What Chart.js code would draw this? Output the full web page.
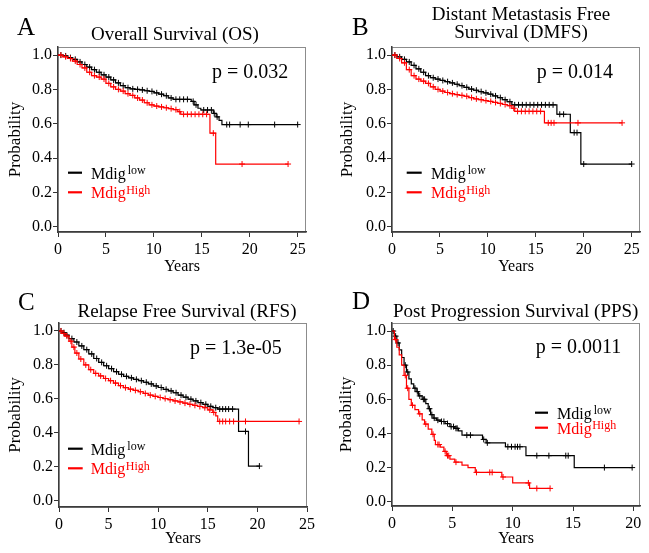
<!DOCTYPE html>
<html>
<head>
<meta charset="utf-8">
<script src="https://cdn.jsdelivr.net/npm/chart.js@4.4.1/dist/chart.umd.min.js"></script>
<style>
body { margin: 0; background: #fff; }
#wrap { position: relative; width: 649px; height: 553px; overflow: hidden; }
#wrap canvas { position: absolute; }
</style>
</head>
<body>
<div id="wrap">
  <canvas id="cA" width="325" height="276" style="left:0;top:0"></canvas>
  <canvas id="cB" width="324" height="276" style="left:325px;top:0"></canvas>
  <canvas id="cC" width="325" height="277" style="left:0;top:276px"></canvas>
  <canvas id="cD" width="324" height="277" style="left:325px;top:276px"></canvas>
</div>
<script>
// tick labels
var yTicks = [0, 0.2, 0.4, 0.6, 0.8, 1.0];
var xTicks25 = [0, 5, 10, 15, 20, 25];
var xTicks20 = [0, 5, 10, 15, 20];
var groupNames = ['Mdig', 'Mdig'];
var groupSup = ['low', 'High'];

// A - Overall Survival, [years, survival]
var osLow = [[0,1],[0.5,0.995],[1,0.985],[1.5,0.975],[2,0.96],[2.5,0.945],[3,0.93],[3.5,0.915],[4,0.9],[4.5,0.885],[5,0.872],[5.5,0.855],[6,0.838],[6.5,0.822],[7,0.81],[7.5,0.803],[8,0.8],[8.5,0.797],[9,0.792],[9.5,0.788],[10,0.78],[10.5,0.772],[11,0.763],[11.5,0.75],[12,0.742],[13.9,0.73],[14.2,0.71],[14.6,0.69],[14.9,0.68],[16.2,0.66],[16.5,0.64],[16.8,0.62],[17.1,0.595],[25,0.595]];
var osLowCens = [[0.3,1],[0.8,0.995],[1.3,0.985],[1.8,0.975],[2.3,0.96],[2.8,0.945],[3.3,0.93],[3.8,0.915],[4.3,0.9],[4.8,0.885],[5.3,0.872],[5.8,0.855],[6.3,0.838],[6.8,0.822],[7.3,0.81],[7.8,0.803],[8.3,0.8],[8.8,0.797],[9.3,0.792],[9.8,0.788],[10.3,0.78],[10.8,0.772],[11.3,0.763],[11.8,0.75],[12.3,0.742],[12.7,0.742],[13.1,0.742],[13.5,0.742],[14.1,0.73],[14.4,0.71],[15.2,0.68],[15.6,0.68],[16,0.68],[16.3,0.66],[16.6,0.64],[17.6,0.595],[17.9,0.595],[19,0.595],[19.85,0.595],[22.6,0.595],[25,0.595]];
var osHigh = [[0,1],[0.5,0.99],[1,0.98],[1.5,0.965],[2,0.945],[2.5,0.925],[3,0.9],[3.5,0.88],[4,0.872],[4.5,0.86],[5,0.835],[5.5,0.815],[6,0.8],[6.5,0.79],[7,0.775],[7.5,0.765],[8,0.75],[8.5,0.738],[9,0.722],[9.5,0.71],[10,0.703],[10.5,0.698],[11,0.693],[11.5,0.688],[12,0.682],[12.5,0.67],[12.8,0.655],[15.85,0.545],[16.45,0.365],[24,0.365]];
var osHighCens = [[0.3,1],[0.8,0.99],[1.3,0.98],[1.8,0.965],[2.3,0.945],[2.8,0.925],[3.3,0.9],[3.8,0.88],[4.3,0.872],[4.8,0.86],[5.3,0.835],[5.8,0.815],[6.3,0.8],[6.8,0.79],[7.3,0.775],[7.8,0.765],[8.3,0.75],[8.8,0.738],[9.3,0.722],[9.8,0.71],[10.3,0.703],[10.8,0.698],[11.3,0.693],[11.8,0.688],[12.3,0.682],[12.7,0.67],[13.1,0.655],[13.5,0.655],[13.9,0.655],[14.3,0.655],[14.7,0.655],[15.1,0.655],[15.5,0.655],[16.2,0.545],[19.2,0.365],[24,0.365]];

// B - Distant Metastasis Free Survival
var dmfsLow = [[0,1],[0.5,0.99],[1,0.975],[1.5,0.96],[2,0.94],[2.5,0.92],[3,0.9],[3.5,0.88],[4,0.868],[4.5,0.86],[5,0.852],[5.5,0.845],[6,0.838],[6.5,0.83],[7,0.822],[7.5,0.812],[8,0.802],[8.5,0.795],[9,0.787],[9.5,0.78],[10,0.772],[10.5,0.762],[11,0.752],[11.5,0.74],[12,0.728],[12.5,0.71],[17.2,0.655],[18.6,0.548],[19.7,0.365],[25,0.365]];
var dmfsLowCens = [[0.3,1],[0.8,0.99],[1.3,0.975],[1.8,0.96],[2.3,0.94],[2.8,0.92],[3.3,0.9],[3.8,0.88],[4.3,0.868],[4.8,0.86],[5.3,0.852],[5.8,0.845],[6.3,0.838],[6.8,0.83],[7.3,0.822],[7.8,0.812],[8.3,0.802],[8.8,0.795],[9.3,0.787],[9.8,0.78],[10.3,0.772],[10.8,0.762],[11.3,0.752],[11.8,0.74],[12.3,0.728],[12.8,0.71],[13.2,0.71],[13.6,0.71],[14,0.71],[14.4,0.71],[14.8,0.71],[15.2,0.71],[15.6,0.71],[16,0.71],[16.4,0.71],[16.8,0.71],[17.5,0.655],[17.9,0.655],[19,0.548],[19.3,0.548],[20,0.365],[25,0.365]];
var dmfsHigh = [[0,1],[0.5,0.98],[1,0.955],[1.5,0.915],[2,0.88],[2.5,0.86],[3,0.848],[3.5,0.835],[4,0.815],[4.5,0.8],[5,0.79],[5.5,0.782],[6,0.775],[6.5,0.77],[7,0.765],[7.5,0.76],[8,0.752],[8.5,0.745],[9,0.74],[9.5,0.735],[10,0.73],[10.5,0.724],[11,0.718],[11.5,0.712],[12,0.705],[12.5,0.69],[12.8,0.672],[15.9,0.605],[24,0.605]];
var dmfsHighCens = [[0.3,1],[0.8,0.98],[1.3,0.955],[1.8,0.915],[2.3,0.88],[2.8,0.86],[3.3,0.848],[3.8,0.835],[4.3,0.815],[4.8,0.8],[5.3,0.79],[5.8,0.782],[6.3,0.775],[6.8,0.77],[7.3,0.765],[7.8,0.76],[8.3,0.752],[8.8,0.745],[9.3,0.74],[9.8,0.735],[10.3,0.73],[10.8,0.724],[11.3,0.718],[11.8,0.712],[12.3,0.705],[12.7,0.69],[13.1,0.672],[13.5,0.672],[13.9,0.672],[14.3,0.672],[14.7,0.672],[15.1,0.672],[15.5,0.672],[16.3,0.605],[16.6,0.605],[16.9,0.605],[19.4,0.605],[24,0.605]];

// C - Relapse Free Survival
var rfsLow = [[0,1],[0.3,0.99],[0.6,0.975],[1,0.955],[1.5,0.935],[2,0.912],[2.5,0.89],[3,0.865],[3.5,0.838],[4,0.815],[4.5,0.795],[5,0.778],[5.5,0.76],[6,0.745],[6.5,0.733],[7,0.724],[7.5,0.715],[8,0.707],[8.5,0.698],[9,0.688],[9.5,0.676],[10,0.667],[10.5,0.656],[11,0.647],[11.5,0.636],[12,0.622],[12.5,0.61],[13,0.598],[13.5,0.588],[14,0.578],[14.5,0.568],[15,0.556],[15.5,0.548],[16,0.54],[18.1,0.408],[19.1,0.204],[20.2,0.204]];
var rfsLowCens = [[0.2,1],[0.5,0.99],[0.8,0.975],[1.3,0.955],[1.8,0.935],[2.3,0.912],[2.8,0.89],[3.3,0.865],[3.8,0.838],[4.3,0.815],[4.8,0.795],[5.3,0.778],[5.8,0.76],[6.3,0.745],[6.8,0.733],[7.3,0.724],[7.8,0.715],[8.3,0.707],[8.8,0.698],[9.3,0.688],[9.8,0.676],[10.3,0.667],[10.8,0.656],[11.3,0.647],[11.8,0.636],[12.3,0.622],[12.8,0.61],[13.3,0.598],[13.8,0.588],[14.3,0.578],[14.8,0.568],[15.3,0.556],[15.8,0.548],[16.2,0.54],[16.5,0.54],[16.8,0.54],[17.1,0.54],[17.5,0.54],[18.8,0.408],[20.2,0.204]];
var rfsHigh = [[0,1],[0.3,0.985],[0.6,0.97],[1,0.94],[1.3,0.905],[1.6,0.87],[2,0.835],[2.5,0.8],[3,0.772],[3.5,0.75],[4,0.735],[4.5,0.72],[5,0.707],[5.5,0.693],[6,0.678],[6.5,0.666],[7,0.657],[7.5,0.65],[8,0.642],[8.5,0.632],[9,0.622],[9.5,0.615],[10,0.608],[10.5,0.602],[11,0.595],[11.5,0.588],[12,0.582],[12.5,0.575],[13,0.568],[13.5,0.562],[14,0.555],[14.5,0.548],[15,0.535],[15.5,0.52],[15.8,0.5],[16,0.467],[24.2,0.467]];
var rfsHighCens = [[0.2,1],[0.5,0.985],[0.8,0.97],[1.2,0.94],[1.5,0.905],[1.8,0.87],[2.2,0.835],[2.7,0.8],[3.2,0.772],[3.7,0.75],[4.2,0.735],[4.7,0.72],[5.2,0.707],[5.7,0.693],[6.2,0.678],[6.7,0.666],[7.2,0.657],[7.7,0.65],[8.2,0.642],[8.7,0.632],[9.2,0.622],[9.7,0.615],[10.2,0.608],[10.7,0.602],[11.2,0.595],[11.7,0.588],[12.2,0.582],[12.7,0.575],[13.2,0.568],[13.7,0.562],[14.2,0.555],[14.7,0.548],[15.2,0.535],[15.6,0.52],[16.2,0.467],[16.5,0.467],[16.8,0.467],[17.2,0.467],[17.6,0.467],[18.8,0.467],[24.2,0.467]];

// D - Post Progression Survival
var ppsLow = [[0,1],[0.2,0.97],[0.4,0.93],[0.6,0.89],[0.8,0.845],[1,0.8],[1.2,0.76],[1.4,0.72],[1.6,0.69],[1.8,0.665],[2,0.645],[2.2,0.62],[2.5,0.6],[2.8,0.575],[3,0.545],[3.2,0.51],[3.4,0.49],[3.7,0.478],[4,0.47],[4.4,0.458],[4.8,0.44],[5.2,0.43],[5.5,0.415],[5.8,0.39],[7.5,0.365],[7.8,0.345],[9.4,0.322],[11.1,0.27],[15.1,0.2],[19.9,0.2]];
var ppsLowCens = [[0.1,1],[0.3,0.97],[0.5,0.93],[1.1,0.8],[1.3,0.76],[1.9,0.665],[2.1,0.645],[2.3,0.62],[2.6,0.6],[2.7,0.6],[3.1,0.545],[3.3,0.51],[3.5,0.49],[3.8,0.478],[4.1,0.47],[4.3,0.47],[4.6,0.458],[4.9,0.44],[5.1,0.44],[5.3,0.43],[5.4,0.43],[6.2,0.39],[6.5,0.39],[7.6,0.365],[7.9,0.345],[9.6,0.322],[9.9,0.322],[10.2,0.322],[10.4,0.322],[10.6,0.322],[12,0.27],[13,0.27],[14.4,0.27],[14.6,0.27],[17.6,0.2],[19.9,0.2]];
var ppsHigh = [[0,1],[0.2,0.95],[0.4,0.905],[0.6,0.86],[0.8,0.8],[1,0.74],[1.2,0.665],[1.4,0.6],[1.6,0.565],[1.9,0.54],[2.2,0.515],[2.5,0.48],[2.7,0.455],[3,0.425],[3.3,0.395],[3.5,0.36],[3.6,0.335],[4,0.32],[4.3,0.295],[4.5,0.27],[4.8,0.25],[5.2,0.232],[5.8,0.215],[6.3,0.2],[6.9,0.172],[9.1,0.145],[10,0.11],[11.4,0.078],[13.1,0.078]];
var ppsHighCens = [[0.3,0.95],[1.1,0.74],[1.3,0.665],[1.7,0.565],[2.3,0.515],[2.8,0.455],[3.4,0.395],[3.8,0.335],[3.9,0.335],[4.4,0.295],[4.6,0.27],[4.7,0.27],[5.3,0.232],[7,0.172],[8.1,0.172],[8.3,0.172],[9.2,0.145],[11.3,0.11],[12,0.078],[13.1,0.078]];

var serif = '"Liberation Serif", "DejaVu Serif", serif';

function toXY(arr) {
    return arr.map(function (p) { return { x: p[0], y: p[1] }; });
}

// frame, panel letter, title, p value and legend with superscripts
var panelText = {
    id: 'panelText',
    beforeDraw: function (chart) {
        var a = chart.chartArea, ctx = chart.ctx;
        ctx.save();
        ctx.strokeStyle = '#8c8c8c';
        ctx.lineWidth = 1;
        ctx.strokeRect(a.left, a.top + 0.5, a.right - a.left - 0.5, a.bottom - a.top);
        ctx.restore();
    },
    afterDraw: function (chart, args, o) {
        var ctx = chart.ctx;
        ctx.save();
        ctx.fillStyle = '#000';
        ctx.textBaseline = 'alphabetic';
        ctx.textAlign = 'left';
        ctx.font = '25px ' + serif;
        ctx.fillText(o.letter, o.letterX, o.letterY);
        ctx.font = '19px ' + serif;
        ctx.textAlign = 'center';
        o.title.forEach(function (line, i) { ctx.fillText(line, o.titleX, o.titleY[i]); });
        ctx.textAlign = 'left';
        ctx.font = '20px ' + serif;
        ctx.fillText(o.p, o.pX, o.pY);
        var colors = ['#000', '#ff0000'];
        for (var i = 0; i < 2; i++) {
            var y = o.legY[i];
            ctx.strokeStyle = colors[i];
            ctx.fillStyle = colors[i];
            ctx.lineWidth = 2.2;
            ctx.beginPath();
            ctx.moveTo(o.legX[0], y);
            ctx.lineTo(o.legX[1], y);
            ctx.stroke();
            ctx.font = '16px ' + serif;
            ctx.fillText(groupNames[i], o.legX[2], y + 6);
            var w = ctx.measureText(groupNames[i]).width;
            ctx.font = '12px ' + serif;
            ctx.fillText(groupSup[i], o.legX[2] + w + (i === 0 ? 2 : 0.5), y + 1.5);
        }
        ctx.restore();
    }
};

function drawPanel(id, low, lowCens, high, highCens, xMax, xTicks, box, txt) {
    var ctx = document.getElementById(id);
    return new Chart(ctx, {
        type: 'line',
        data: {
            datasets: [
                { data: toXY(highCens), showLine: false, pointStyle: 'cross', pointRadius: 3, borderColor: '#ff0000', borderWidth: 1 },
                { data: toXY(high), stepped: true, borderColor: '#ff0000', borderWidth: 1.2, pointRadius: 0, fill: false },
                { data: toXY(lowCens), showLine: false, pointStyle: 'cross', pointRadius: 3, borderColor: '#000', borderWidth: 1 },
                { data: toXY(low), stepped: true, borderColor: '#000', borderWidth: 1.2, pointRadius: 0, fill: false }
            ]
        },
        options: {
            responsive: false,
            animation: false,
            events: [],
            layout: { padding: { left: 0, top: 47, right: box.right, bottom: 0 } },
            plugins: {
                legend: { display: false },
                tooltip: { enabled: false },
                panelText: txt
            },
            scales: {
                x: {
                    type: 'linear',
                    min: 0,
                    max: xMax,
                    afterBuildTicks: function (s) { s.ticks = xTicks.map(function (v) { return { value: v }; }); },
                    afterFit: function (s) { s.height = box.xH; },
                    grid: { display: true, drawOnChartArea: false, drawTicks: true, tickLength: 5, color: '#333' },
                    border: { display: true, color: '#3c3c3c', width: 1.5 },
                    ticks: { color: '#000', padding: 3, maxRotation: 0, autoSkip: false, font: { family: serif, size: 16 } },
                    title: { display: true, text: 'Years', color: '#000', font: { family: serif, size: 16 }, padding: { top: 0, bottom: box.xTitlePad } }
                },
                y: {
                    type: 'linear',
                    min: box.yMin,
                    max: 1.047,
                    afterBuildTicks: function (s) { s.ticks = yTicks.map(function (v) { return { value: v }; }); },
                    afterFit: function (s) { s.width = box.yW; },
                    grid: { display: true, drawOnChartArea: false, drawTicks: true, tickLength: 5, color: '#333' },
                    border: { display: true, color: '#3c3c3c', width: 1.5 },
                    ticks: { color: '#000', padding: 1, font: { family: serif, size: 16 }, callback: function (v) { return v.toFixed(1); } },
                    title: { display: true, text: 'Probability', color: '#000', font: { family: serif, size: 17 }, padding: { top: box.yTitlePad, bottom: 0 } }
                }
            }
        },
        plugins: [panelText]
    });
}

drawPanel('cA', osLow, osLowCens, osHigh, osHighCens, 25.87, xTicks25,
    { right: 19, xH: 44, yW: 58, yMin: -0.031, xTitlePad: 0, yTitlePad: 5 },
    { letter: 'A', letterX: 17, letterY: 35, title: ['Overall Survival (OS)'], titleX: 175, titleY: [40], p: 'p = 0.032', pX: 212, pY: 78, legX: [68, 82, 91], legY: [172.7, 192.3] });

drawPanel('cB', dmfsLow, dmfsLowCens, dmfsHigh, dmfsHighCens, 25.87, xTicks25,
    { right: 9, xH: 44, yW: 67, yMin: -0.031, xTitlePad: 0, yTitlePad: 12.5 },
    { letter: 'B', letterX: 27, letterY: 35, title: ['Distant Metastasis Free', 'Survival (DMFS)'], titleX: 196, titleY: [19.5, 37.5], p: 'p = 0.014', pX: 211.7, pY: 77.5, legX: [81.7, 96.7, 106], legY: [172.7, 192.3] });

drawPanel('cC', rfsLow, rfsLowCens, rfsHigh, rfsHighCens, 25, xTicks25,
    { right: 18, xH: 46, yW: 59, yMin: -0.037, xTitlePad: 4.5, yTitlePad: 5 },
    { letter: 'C', letterX: 18, letterY: 33.5, title: ['Relapse Free Survival (RFS)'], titleX: 187, titleY: [40.5], p: 'p = 1.3e-05', pX: 190, pY: 78.3, legX: [68, 82.7, 90.7], legY: [172.7, 192.3] });

drawPanel('cD', ppsLow, ppsLowCens, ppsHigh, ppsHighCens, 20.55, xTicks20,
    { right: 9, xH: 47, yW: 67, yMin: -0.025, xTitlePad: 5, yTitlePad: 11.5 },
    { letter: 'D', letterX: 27, letterY: 33, title: ['Post Progression Survival (PPS)'], titleX: 190.7, titleY: [40.5], p: 'p = 0.0011', pX: 210.7, pY: 77.3, legX: [210, 223, 232], legY: [136.7, 151.7] });
</script>
</body>
</html>
